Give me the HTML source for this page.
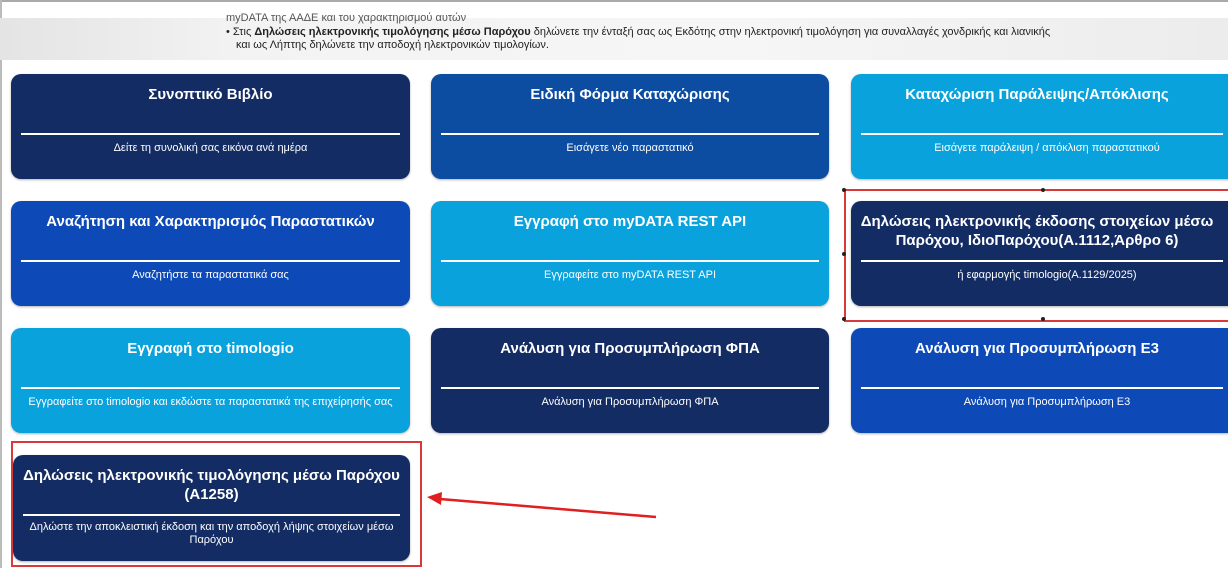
<!DOCTYPE html>
<html><head><meta charset="utf-8"><style>
body{margin:0;width:1228px;height:568px;background:#fff;position:relative;overflow:hidden;font-family:"Liberation Sans",Arial,sans-serif}
.band{position:absolute;left:0;top:18px;width:1228px;height:42px;background:linear-gradient(90deg,#e4e4e4 0%,#f3f3f3 20%,#f6f6f6 60%,#ececec 100%)}
.hdr{position:absolute;left:226px;font-size:11px;color:#222;line-height:13px}
.c{position:absolute;border-radius:10px;color:#fff;text-align:center;box-shadow:0 1px 2px rgba(0,0,0,.3)}
.c h3{margin:0;position:absolute;left:0;right:0;top:11px;font-size:15px;font-weight:bold;line-height:19px}
.c hr{position:absolute;left:10px;right:10px;top:59px;border:0;border-top:2px solid #fff;margin:0}
.c p{margin:0;position:absolute;left:10px;right:10px;top:67px;font-size:11px;line-height:14px}
.n{background:#132c64}.m{background:#0c4da2}.l{background:#0aa2dd}.b{background:#0d4ab7}
.red{position:absolute;border:2px solid #d83a3a}
</style></head><body>
<div style="position:absolute;left:0;top:0;width:1228px;height:2px;background:#aaa"></div>
<div style="position:absolute;left:0;top:0;width:2px;height:568px;background:#bbb"></div>
<div class="band"></div>
<div class="hdr" style="top:12px;color:#555">myDATA της ΑΑΔΕ και του χαρακτηρισμού αυτών</div>
<div class="hdr" style="top:26px">• Στις <b>Δηλώσεις ηλεκτρονικής τιμολόγησης μέσω Παρόχου</b> δηλώνετε την ένταξή σας ως Εκδότης στην ηλεκτρονική τιμολόγηση για συναλλαγές χονδρικής και λιανικής</div>
<div class="hdr" style="top:39px;left:236px">και ως Λήπτης δηλώνετε την αποδοχή ηλεκτρονικών τιμολογίων.</div>

<div class="c n" style="left:11px;top:74px;width:399px;height:105px"><h3>Συνοπτικό Βιβλίο</h3><hr><p>Δείτε τη συνολική σας εικόνα ανά ημέρα</p></div>
<div class="c m" style="left:431px;top:74px;width:398px;height:105px"><h3>Ειδική Φόρμα Καταχώρισης</h3><hr><p>Εισάγετε νέο παραστατικό</p></div>
<div class="c l" style="left:851px;top:74px;width:390px;height:105px"><h3 style="width:372px">Καταχώριση Παράλειψης/Απόκλισης</h3><hr style="right:18px"><p style="width:372px">Εισάγετε παράλειψη / απόκλιση παραστατικού</p></div>

<div class="c b" style="left:11px;top:201px;width:399px;height:105px"><h3>Αναζήτηση και Χαρακτηρισμός Παραστατικών</h3><hr><p>Αναζητήστε τα παραστατικά σας</p></div>
<div class="c l" style="left:431px;top:201px;width:398px;height:105px"><h3>Εγγραφή στο myDATA REST API</h3><hr><p>Εγγραφείτε στο myDATA REST API</p></div>
<div class="c n" style="left:851px;top:201px;width:390px;height:105px"><h3 style="width:372px">Δηλώσεις ηλεκτρονικής έκδοσης στοιχείων μέσω Παρόχου, ΙδιοΠαρόχου(Α.1112,Άρθρο 6)</h3><hr style="right:18px"><p style="width:372px">ή εφαρμογής timologio(Α.1129/2025)</p></div>

<div class="c l" style="left:11px;top:328px;width:399px;height:105px"><h3>Εγγραφή στο timologio</h3><hr><p>Εγγραφείτε στο timologio και εκδώστε τα παραστατικά της επιχείρησής σας</p></div>
<div class="c n" style="left:431px;top:328px;width:398px;height:105px"><h3>Ανάλυση για Προσυμπλήρωση ΦΠΑ</h3><hr><p>Ανάλυση για Προσυμπλήρωση ΦΠΑ</p></div>
<div class="c b" style="left:851px;top:328px;width:390px;height:105px"><h3 style="width:372px">Ανάλυση για Προσυμπλήρωση Ε3</h3><hr style="right:18px"><p style="width:372px">Ανάλυση για Προσυμπλήρωση Ε3</p></div>

<div class="c n" style="left:13px;top:455px;width:397px;height:106px"><h3 style="top:11px">Δηλώσεις ηλεκτρονικής τιμολόγησης μέσω Παρόχου (Α1258)</h3><hr style="top:59px"><p style="top:66px;line-height:13px">Δηλώστε την αποκλειστική έκδοση και την αποδοχή λήψης στοιχείων μέσω Παρόχου</p></div>

<div class="red" style="left:844px;top:189px;width:390px;height:129px;border-right:0"></div>
<div class="red" style="left:11px;top:441px;width:407px;height:122px"></div>
<svg style="position:absolute;left:0;top:0" width="1228" height="568">
<line x1="656" y1="517" x2="440" y2="499" stroke="#e02020" stroke-width="2.5"/>
<polygon points="427,497 442,492 441,505" fill="#e02020"/>
<g fill="#222"><circle cx="844" cy="190" r="2"/><circle cx="1043" cy="190" r="2"/><circle cx="844" cy="254" r="2"/><circle cx="844" cy="319" r="2"/><circle cx="1043" cy="319" r="2"/></g>
</svg>
</body></html>
